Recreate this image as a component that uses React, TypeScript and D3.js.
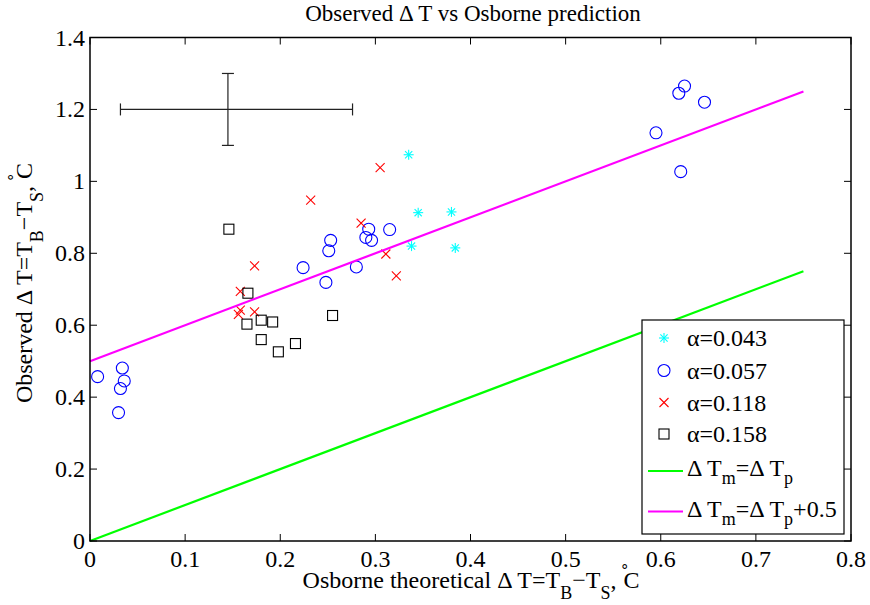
import React from "react";
import * as d3 from "d3";

// Observed temperature difference vs the Osborne theoretical prediction
const alpha043: [number, number][] = [
  [0.335, 1.074], [0.345, 0.913], [0.38, 0.915], [0.338, 0.82], [0.384, 0.815],
];
const alpha057: [number, number][] = [
  [0.008, 0.457], [0.034, 0.481], [0.036, 0.445], [0.032, 0.424], [0.03, 0.357],
  [0.224, 0.76], [0.248, 0.719], [0.251, 0.807], [0.253, 0.836], [0.28, 0.762],
  [0.29, 0.844], [0.293, 0.867], [0.296, 0.836], [0.315, 0.866],
  [0.595, 1.135], [0.619, 1.245], [0.625, 1.265], [0.646, 1.22], [0.621, 1.027],
];
const alpha118: [number, number][] = [
  [0.305, 1.038], [0.232, 0.948], [0.285, 0.884], [0.311, 0.798], [0.322, 0.737],
  [0.173, 0.765], [0.158, 0.694], [0.158, 0.642], [0.156, 0.63], [0.173, 0.637],
];
const alpha158: [number, number][] = [
  [0.146, 0.867], [0.166, 0.689], [0.165, 0.603], [0.18, 0.614], [0.192, 0.609],
  [0.18, 0.56], [0.198, 0.526], [0.216, 0.549], [0.255, 0.627],
];
const seriesLabels = ["α=0.043", "α=0.057", "α=0.118", "α=0.158"];
const xTicks = [0, 0.1, 0.2, 0.3, 0.4, 0.5, 0.6, 0.7, 0.8];
const yTicks = [0, 0.2, 0.4, 0.6, 0.8, 1, 1.2, 1.4];
// reference lines: dTm = dTp + offset, drawn over this range of dTp
const refRange = [0, 0.75];
const refOffsets = [0, 0.5];
// representative error bar
const errCenter = [0.145, 1.2];
const errX = [0.032, 0.276];
const errY = [1.1, 1.3];

const FONT = "'Liberation Serif', 'Times New Roman', serif";
const box = { left: 90, top: 37.5, right: 851, bottom: 541 };

const x = d3.scaleLinear().domain([0, 0.8]).range([box.left, box.right]);
const y = d3.scaleLinear().domain([0, 1.4]).range([box.bottom, box.top]);

const Asterisk = ({ cx, cy, c }: { cx: number; cy: number; c: string }) => {
  const r = 5;
  const d = r * 0.72;
  return (
    <g stroke={c} strokeWidth={1.1}>
      <line x1={cx - r} y1={cy} x2={cx + r} y2={cy} />
      <line x1={cx} y1={cy - r} x2={cx} y2={cy + r} />
      <line x1={cx - d} y1={cy - d} x2={cx + d} y2={cy + d} />
      <line x1={cx - d} y1={cy + d} x2={cx + d} y2={cy - d} />
    </g>
  );
};
const Circle = ({ cx, cy, c }: { cx: number; cy: number; c: string }) => (
  <circle cx={cx} cy={cy} r={6} fill="none" stroke={c} strokeWidth={1.1} />
);
const Cross = ({ cx, cy, c }: { cx: number; cy: number; c: string }) => {
  const r = 4.5;
  return (
    <g stroke={c} strokeWidth={1.1}>
      <line x1={cx - r} y1={cy - r} x2={cx + r} y2={cy + r} />
      <line x1={cx - r} y1={cy + r} x2={cx + r} y2={cy - r} />
    </g>
  );
};
const Square = ({ cx, cy, c }: { cx: number; cy: number; c: string }) => (
  <rect x={cx - 5} y={cy - 5} width={10} height={10} fill="none" stroke={c} strokeWidth={1.1} />
);

const series = [
  { data: alpha043, color: "#00ffff", M: Asterisk },
  { data: alpha057, color: "#0000ff", M: Circle },
  { data: alpha118, color: "#ff0000", M: Cross },
  { data: alpha158, color: "#000000", M: Square },
];
const refColors = ["#00ff00", "#ff00ff"];

// label with T_B - T_S and a raised degree ring sitting over the C
const TempLabel = ({ lead }: { lead: string }) => (
  <>
    {lead}
    <tspan fontSize={18} dy={11}>B</tspan>
    <tspan dy={-11}>−T</tspan>
    <tspan fontSize={18} dy={11}>S</tspan>
    <tspan dy={-11}>,</tspan>
    <tspan fontSize={15} dx={4} dy={-17}>∘</tspan>
    <tspan dx={-6} dy={17}>C</tspan>
  </>
);

export default function App() {
  const tickLen = 7;
  const legend = { x: 642, y: 320, w: 202, h: 214 };
  const rowY = [338, 370.5, 402.5, 434];
  const lineRowY = [471, 511.5];
  const fs = 24;

  return (
    <div>
      <style>{"body{margin:0}"}</style>
      <svg width={870} height={605} style={{ display: "block", fontFamily: FONT }}>
        <rect width={870} height={605} fill="#fff" />

        {/* title */}
        <text x={473} y={21} textAnchor="middle" fontSize={23}>
          Observed Δ T vs Osborne prediction
        </text>

        {/* markers */}
        {series.map((s, i) =>
          s.data.map((p, j) => <s.M key={`${i}-${j}`} cx={x(p[0])} cy={y(p[1])} c={s.color} />)
        )}

        {/* reference lines */}
        {refOffsets.map((o, i) => (
          <path
            key={i}
            d={d3.line<number>().x((d) => x(d)).y((d) => y(d + o))(refRange) || ""}
            stroke={refColors[i]}
            strokeWidth={2.2}
            fill="none"
          />
        ))}

        {/* error bar */}
        <g stroke="#222" strokeWidth={1.2}>
          <line x1={x(errX[0])} x2={x(errX[1])} y1={y(errCenter[1])} y2={y(errCenter[1])} />
          <line x1={x(errX[0])} x2={x(errX[0])} y1={y(errCenter[1]) - 6} y2={y(errCenter[1]) + 6} />
          <line x1={x(errX[1])} x2={x(errX[1])} y1={y(errCenter[1]) - 6} y2={y(errCenter[1]) + 6} />
          <line x1={x(errCenter[0])} x2={x(errCenter[0])} y1={y(errY[0])} y2={y(errY[1])} />
          <line x1={x(errCenter[0]) - 6} x2={x(errCenter[0]) + 6} y1={y(errY[0])} y2={y(errY[0])} />
          <line x1={x(errCenter[0]) - 6} x2={x(errCenter[0]) + 6} y1={y(errY[1])} y2={y(errY[1])} />
        </g>

        {/* axes box and ticks */}
        <rect
          x={box.left}
          y={box.top}
          width={box.right - box.left}
          height={box.bottom - box.top}
          fill="none"
          stroke="#000"
          strokeWidth={1.5}
        />
        <g stroke="#000" strokeWidth={1}>
          {xTicks.map((t) => (
            <g key={t}>
              <line x1={x(t)} x2={x(t)} y1={box.bottom} y2={box.bottom - tickLen} />
              <line x1={x(t)} x2={x(t)} y1={box.top} y2={box.top + tickLen} />
            </g>
          ))}
          {yTicks.map((t) => (
            <g key={t}>
              <line x1={box.left} x2={box.left + tickLen} y1={y(t)} y2={y(t)} />
              <line x1={box.right} x2={box.right - tickLen} y1={y(t)} y2={y(t)} />
            </g>
          ))}
        </g>
        <g fontSize={fs}>
          {xTicks.map((t) => (
            <text key={t} x={x(t)} y={567} textAnchor="middle">
              {d3.format("~g")(t)}
            </text>
          ))}
          {yTicks.map((t) => (
            <text key={t} x={85} y={y(t) + 8} textAnchor="end">
              {d3.format("~g")(t)}
            </text>
          ))}
        </g>

        {/* axis labels */}
        <text x={471} y={588} textAnchor="middle" fontSize={fs}>
          <TempLabel lead="Osborne theoretical Δ T=T" />
        </text>
        <text transform="translate(32,283) rotate(-90)" textAnchor="middle" fontSize={fs}>
          <TempLabel lead="Observed Δ T=T" />
        </text>

        {/* legend */}
        <rect
          x={legend.x}
          y={legend.y}
          width={legend.w}
          height={legend.h}
          fill="#fff"
          stroke="#000"
          strokeWidth={1.2}
        />
        {series.map((s, i) => (
          <g key={i}>
            <s.M cx={664} cy={rowY[i]} c={s.color} />
            <text x={687} y={rowY[i] + 8} fontSize={fs}>
              {seriesLabels[i]}
            </text>
          </g>
        ))}
        {refOffsets.map((o, i) => (
          <g key={i}>
            <line x1={648} x2={683} y1={lineRowY[i]} y2={lineRowY[i]} stroke={refColors[i]} strokeWidth={2.2} />
            <text x={687} y={lineRowY[i] + 5} fontSize={fs}>
              Δ T
              <tspan fontSize={18} dy={8}>m</tspan>
              <tspan dy={-8}>=Δ T</tspan>
              <tspan fontSize={18} dy={8}>p</tspan>
              {o !== 0 && <tspan dy={-8}>+{o}</tspan>}
            </text>
          </g>
        ))}
      </svg>
    </div>
  );
}
